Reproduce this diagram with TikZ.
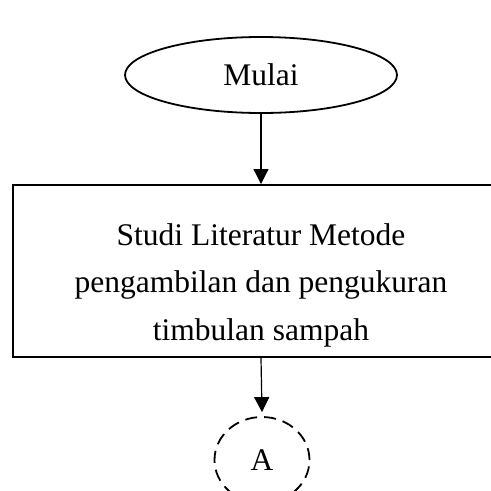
\documentclass[tikz,border=0pt]{standalone}
\usepackage{fontspec}
\setmainfont{Liberation Serif}
\usetikzlibrary{shapes.geometric,arrows.meta}
\begin{document}
\begin{tikzpicture}[x=1pt,y=1pt,
  txt/.style={font=\fontsize{31.5}{47.5}\selectfont},
  terminal/.style={draw, ellipse, line width=1.8pt, minimum width=272pt, minimum height=76pt, inner sep=0pt, txt},
  procbox/.style={draw, rectangle, line width=2pt, minimum width=496pt, minimum height=172pt, inner sep=0pt},
  connector/.style={draw, ellipse, dashed, dash pattern=on 12pt off 7pt, line width=1.8pt, minimum width=95pt, minimum height=86pt, inner sep=0pt, txt},
  flow/.style={line width=1.2pt, -{Triangle[length=15pt,width=15pt]}}]
\useasboundingbox (0,0) rectangle (491,-491);
\clip (0,0) rectangle (491,-491);
\node[terminal] (mulai) at (261,-75) {Mulai};
\node[procbox] (studi) at (261,-271) {};
\node[txt, align=center] (studitext) at (261,-285) {Studi Literatur Metode\\pengambilan dan pengukuran\\timbulan sampah};
\node[connector] (a) at (262,-460) {A};
\draw[flow] (mulai.south) -- (studi.north);
\draw[flow] (studi.south) -- ([yshift=4pt]a.north);
\end{tikzpicture}
\end{document}
